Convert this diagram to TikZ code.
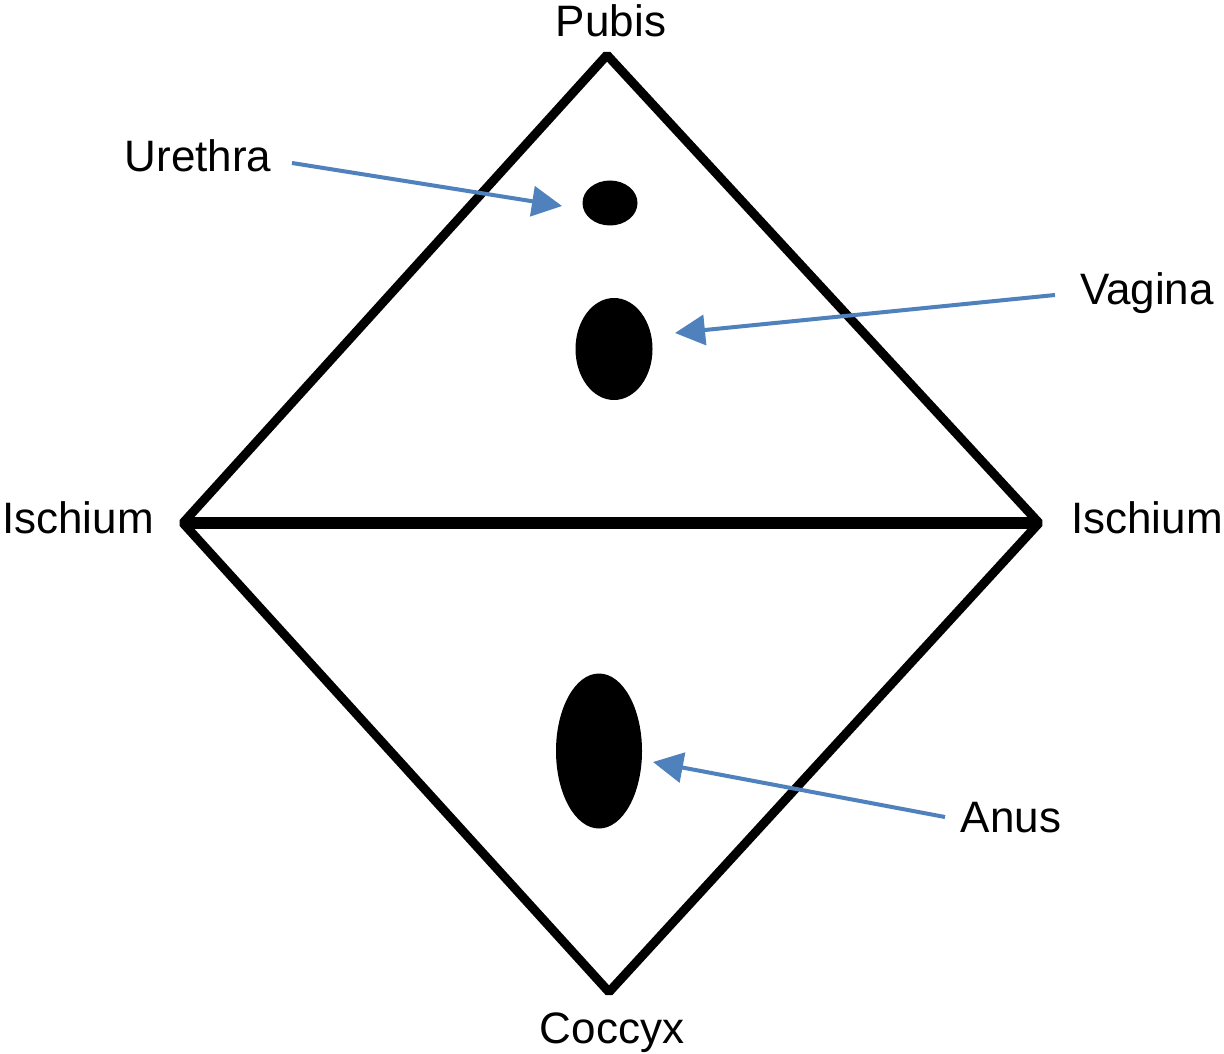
\documentclass[tikz,border=0pt]{standalone}
\usepackage{fontspec}
\setmainfont{Liberation Sans}
\usetikzlibrary{shapes.geometric,arrows.meta}
\definecolor{arrowblue}{RGB}{79,129,189}
\begin{document}
\begin{tikzpicture}[x=0.5pt,y=-0.5pt,
  lbl/.style={anchor=base,inner sep=0pt,font=\fontsize{22pt}{26pt}\selectfont},
  organ/.style={ellipse,fill=black,draw=none,inner sep=0pt},
  rim/.style={line width=4.5pt,line join=bevel,draw=black},
  pointer/.style={draw=arrowblue,line width=2pt,-{Triangle[length=15pt,width=15pt]}}]
\useasboundingbox[fill=white] (0,0) rectangle (1224,1053);
% vertices
\coordinate (T) at (607,55);
\coordinate (L) at (183,523);
\coordinate (R) at (1039,523);
\coordinate (B) at (609,992);
\draw[rim] (T) -- (R) -- (B) -- (L) -- cycle;
\draw[line width=6pt] (L) -- (R);
% organs
\node[organ,minimum width=27.5pt,minimum height=22.5pt] (ure) at (610,203) {};
\node[organ,minimum width=38.5pt,minimum height=51pt] (vag) at (614,349) {};
\node[organ,minimum width=43pt,minimum height=77.5pt] (anu) at (599,751) {};
% labels
\node[lbl] (pubis) at (611,37) {Pubis};
\node[lbl] (urethra) at (198,172) {Urethra};
\node[lbl] (vagina) at (1147,305) {Vagina};
\node[lbl] (ischl) at (78,533) {Ischium};
\node[lbl] (ischr) at (1147,533) {Ischium};
\node[lbl] (anus) at (1011,832) {Anus};
\node[lbl] (coccyx) at (612,1043) {Coccyx};
% arrows
\coordinate (us) at (292,163);
\coordinate (ut) at (562,206);
\coordinate (vs) at (1055,295);
\coordinate (vt) at (675,333);
\coordinate (as) at (945,817);
\coordinate (at) at (653,762);
\draw[pointer] (us) -- (ut);
\draw[pointer] (vs) -- (vt);
\draw[pointer] (as) -- (at);
\end{tikzpicture}
\end{document}
